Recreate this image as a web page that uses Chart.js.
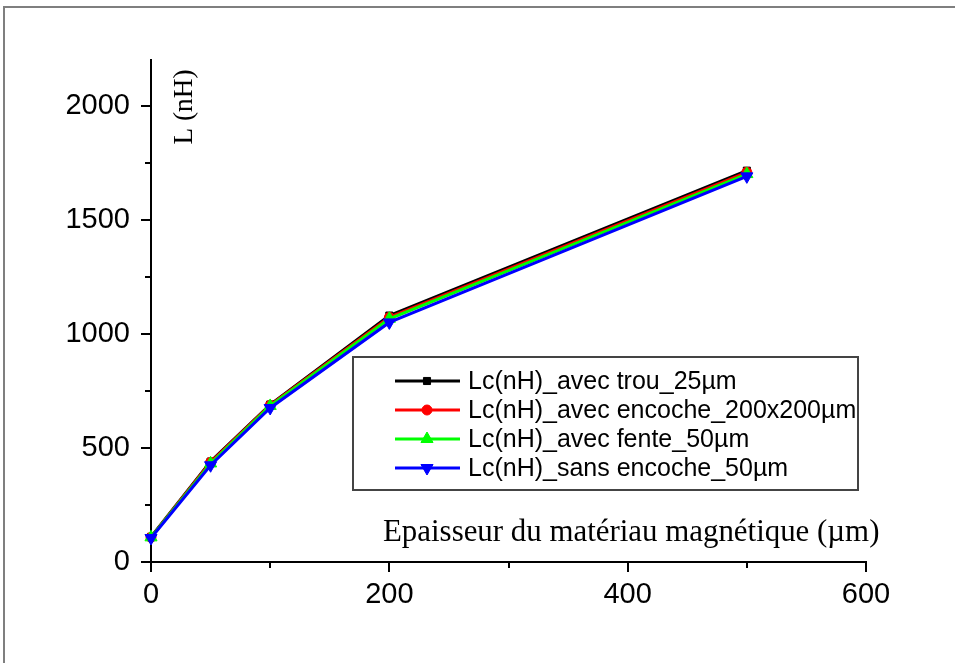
<!DOCTYPE html>
<html>
<head>
<meta charset="utf-8">
<script src="https://cdn.jsdelivr.net/npm/chart.js@4/dist/chart.umd.min.js"></script>
<style>
  html, body { margin: 0; padding: 0; background: #ffffff; }
  #c { display: block; }
</style>
</head>
<body>
<canvas id="c" width="955" height="663"></canvas>
<script>
// ---- data ----
const xValues = [0, 50, 100, 200, 500];
const seriesLabels = [
  "Lc(nH)_avec trou_25µm",
  "Lc(nH)_avec encoche_200x200µm",
  "Lc(nH)_avec fente_50µm",
  "Lc(nH)_sans encoche_50µm"
];
const avecTrou    = [110, 440, 690, 1080, 1715];
const avecEncoche = [108, 437, 687, 1072, 1708];
const avecFente   = [108, 432, 684, 1066, 1700];
const sansEncoche = [105, 424, 675, 1050, 1690];
const xMajorTicks = [0, 200, 400, 600];
const xMinorTicks = [100, 300, 500];
const yMajorTicks = [0, 500, 1000, 1500, 2000];
const yMinorTicks = [250, 750, 1250, 1750];
const xTitle = "Epaisseur du matériau magnétique (µm)";
const yTitle = "L (nH)";

const seriesValues = [avecTrou, avecEncoche, avecFente, sansEncoche];
const colors = ["#000000", "#ff0000", "#00ff00", "#0000ff"];
const styles = [
  { pointStyle: "rect", radius: 5, rotation: 0 },
  { pointStyle: "circle", radius: 5, rotation: 0 },
  { pointStyle: "triangle", radius: 7, rotation: 0 },
  { pointStyle: "triangle", radius: 7, rotation: 180 }
];

const datasets = seriesValues.map((vals, i) => ({
  label: seriesLabels[i],
  data: xValues.map((x, j) => ({ x: x, y: vals[j] })),
  borderColor: colors[i],
  backgroundColor: colors[i],
  borderWidth: 3,
  pointStyle: styles[i].pointStyle,
  pointRadius: styles[i].radius,
  pointRotation: styles[i].rotation,
  pointBorderWidth: 1,
  pointBorderColor: colors[i],
  pointBackgroundColor: colors[i],
  tension: 0,
  clip: false,
  order: 3 - i
}));

const decor = {
  id: "decor",
  beforeDraw(chart) {
    const ctx = chart.ctx;
    ctx.save();
    ctx.fillStyle = "#ffffff";
    ctx.fillRect(0, 0, chart.width, chart.height);
    ctx.strokeStyle = "#7f7f7f";
    ctx.lineWidth = 2;
    ctx.strokeRect(4, 7, chart.width + 20, chart.height + 20);
    ctx.restore();
  },
  afterDraw(chart) {
    const ctx = chart.ctx;
    const xs = chart.scales.x, ys = chart.scales.y;
    const area = chart.chartArea;
    ctx.save();
    // minor ticks
    ctx.strokeStyle = "#000";
    ctx.lineWidth = 2;
    xMinorTicks.forEach(v => {
      const px = Math.round(xs.getPixelForValue(v));
      ctx.beginPath(); ctx.moveTo(px, area.bottom); ctx.lineTo(px, area.bottom + 6); ctx.stroke();
    });
    yMinorTicks.forEach(v => {
      const py = Math.round(ys.getPixelForValue(v));
      ctx.beginPath(); ctx.moveTo(area.left, py); ctx.lineTo(area.left - 6, py); ctx.stroke();
    });
    // x title
    ctx.fillStyle = "#000";
    ctx.font = "25px 'Liberation Serif'";
    let w = ctx.measureText(xTitle).width;
    let fs = 25 * 497 / w;
    ctx.font = fs.toFixed(1) + "px 'Liberation Serif'";
    ctx.textBaseline = "alphabetic";
    ctx.textAlign = "left";
    ctx.fillText(xTitle, 383, 541);
    // y title
    ctx.save();
    ctx.translate(192, 107);
    ctx.rotate(-Math.PI / 2);
    ctx.font = "25px 'Liberation Serif'";
    w = ctx.measureText(yTitle).width;
    fs = 25 * 75 / w;
    ctx.font = fs.toFixed(1) + "px 'Liberation Serif'";
    ctx.textAlign = "center";
    ctx.fillText(yTitle, 0, 0);
    ctx.restore();
    // legend
    const box = { l: 353, t: 357, r: 858, b: 490 };
    ctx.strokeStyle = "#444";
    ctx.lineWidth = 2;
    ctx.strokeRect(box.l, box.t, box.r - box.l, box.b - box.t);
    ctx.font = "25px 'Liberation Sans', Arial";
    ctx.textAlign = "left";
    ctx.textBaseline = "middle";
    chart.data.datasets.forEach((ds, i) => {
      const y = 381 + i * 29;
      ctx.strokeStyle = ds.borderColor;
      ctx.lineWidth = 3;
      ctx.beginPath(); ctx.moveTo(395, y); ctx.lineTo(460, y); ctx.stroke();
      ctx.fillStyle = ds.backgroundColor;
      ctx.lineWidth = 1;
      Chart.helpers.drawPoint(ctx, {
        pointStyle: ds.pointStyle, radius: ds.pointRadius,
        rotation: ds.pointRotation, borderWidth: 1
      }, 427, y);
      ctx.fillStyle = "#000";
      ctx.fillText(ds.label, 468, y + 1);
    });
    ctx.restore();
  }
};

new Chart(document.getElementById("c"), {
  type: "line",
  data: { datasets: datasets },
  options: {
    responsive: false,
    devicePixelRatio: 1,
    animation: false,
    layout: { padding: { top: 60, right: 89, left: 0, bottom: 0 } },
    plugins: { legend: { display: false }, tooltip: { enabled: false } },
    scales: {
      x: {
        type: "linear",
        min: 0, max: 600,
        afterFit(s) { s.height = 101; },
        afterBuildTicks(s) { s.ticks = xMajorTicks.map(v => ({ value: v })); },
        border: { color: "#000", width: 2 },
        grid: { drawOnChartArea: false, color: "#000", lineWidth: 2, tickLength: 10 },
        ticks: { color: "#000", padding: 6, maxRotation: 0, callback: v => String(v),
                 font: { family: "'Liberation Sans', Arial", size: 29 } }
      },
      y: {
        type: "linear",
        min: 0, max: 2200,
        afterFit(s) { s.width = 151; },
        afterBuildTicks(s) { s.ticks = yMajorTicks.map(v => ({ value: v })); },
        border: { color: "#000", width: 2 },
        grid: { drawOnChartArea: false, color: "#000", lineWidth: 2, tickLength: 10 },
        ticks: { color: "#000", padding: 11, callback: v => String(v),
                 font: { family: "'Liberation Sans', Arial", size: 29 } }
      }
    }
  },
  plugins: [decor]
});
</script>
</body>
</html>
